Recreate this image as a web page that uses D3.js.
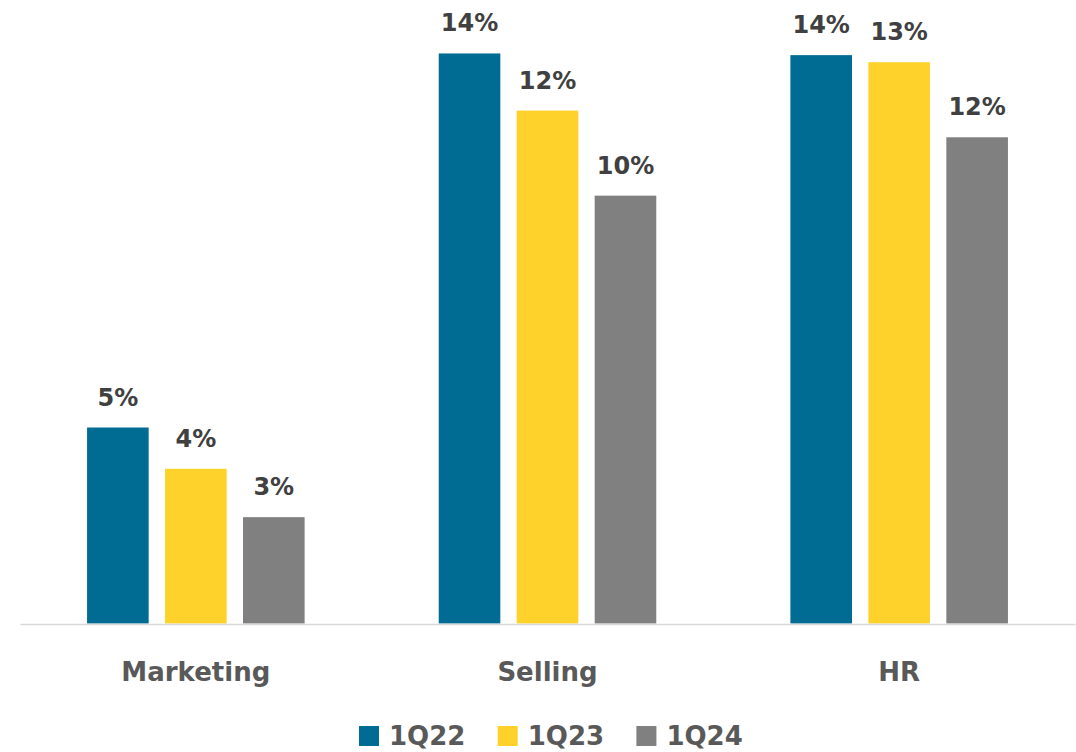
<!DOCTYPE html>
<html>
<head>
<meta charset="utf-8">
<script src="https://cdn.jsdelivr.net/npm/d3@7"></script>
<style>
  html, body { margin: 0; padding: 0; background: #ffffff; }
  svg { display: block; }
</style>
</head>
<body>
<svg id="chart" width="1076" height="752"></svg>
<script>
// Cost share by department, per quarter
const categories = ["Marketing", "Selling", "HR"];
const seriesNames = ["1Q22", "1Q23", "1Q24"];
const q1_22 = [0.0470, 0.1367, 0.1363];
const q1_23 = [0.0371, 0.1230, 0.1346];
const q1_24 = [0.0255, 0.1026, 0.1166];
const seriesColors = ["#016c93", "#fed22a", "#808080"];

const seriesValues = [q1_22, q1_23, q1_24];
const rows = categories.map((c, i) => ({
  category: c,
  values: seriesNames.map((s, j) => ({ series: s, value: seriesValues[j][i] }))
}));

const svg = d3.select("#chart");

const x0 = d3.scaleBand().domain(categories).range([20, 1075]).padding(0);
const x1 = d3.scaleBand().domain(seriesNames).range([0, x0.bandwidth()])
  .paddingInner(0.21).paddingOuter(0.86);
const y = d3.scaleLinear().domain([0, 0.15]).range([623.5, -2]);
const color = d3.scaleOrdinal().domain(seriesNames).range(seriesColors);
const fmt = d3.format(".0%");

const groups = svg.append("g").selectAll("g")
  .data(rows).join("g")
  .attr("transform", d => `translate(${x0(d.category)},0)`);

groups.selectAll("rect")
  .data(d => d.values).join("rect")
  .attr("x", d => x1(d.series))
  .attr("y", d => y(d.value))
  .attr("width", x1.bandwidth())
  .attr("height", d => y(0) - y(d.value))
  .attr("fill", d => color(d.series));

groups.selectAll("text.value")
  .data(d => d.values).join("text")
  .attr("class", "value")
  .attr("x", d => x1(d.series) + x1.bandwidth() / 2)
  .attr("y", d => y(d.value) - 22)
  .attr("text-anchor", "middle")
  .attr("font-family", "DejaVu Sans")
  .attr("font-weight", "bold")
  .attr("font-size", 24)
  .attr("fill", "#404040")
  .text(d => fmt(d.value));

// Category axis
const xAxis = svg.append("g")
  .attr("transform", "translate(0,624)")
  .call(d3.axisBottom(x0).tickSize(0).tickPadding(0));
xAxis.select(".domain").attr("stroke", "#d9d9d9").attr("stroke-width", 1.5);
xAxis.selectAll(".tick text")
  .attr("dy", 0)
  .attr("y", 57)
  .attr("font-family", "DejaVu Sans")
  .attr("font-weight", "bold")
  .attr("font-size", 26)
  .attr("fill", "#595959");

// Legend
const legend = svg.append("g").attr("transform", "translate(359,726)");
const item = legend.selectAll("g")
  .data(seriesNames).join("g")
  .attr("transform", (d, i) => `translate(${i * 138.7},0)`);
item.append("rect")
  .attr("width", 20).attr("height", 20)
  .attr("fill", d => color(d));
item.append("text")
  .attr("x", 30).attr("y", 19)
  .attr("font-family", "DejaVu Sans")
  .attr("font-weight", "bold")
  .attr("font-size", 26)
  .attr("fill", "#595959")
  .text(d => d);
</script>
</body>
</html>
